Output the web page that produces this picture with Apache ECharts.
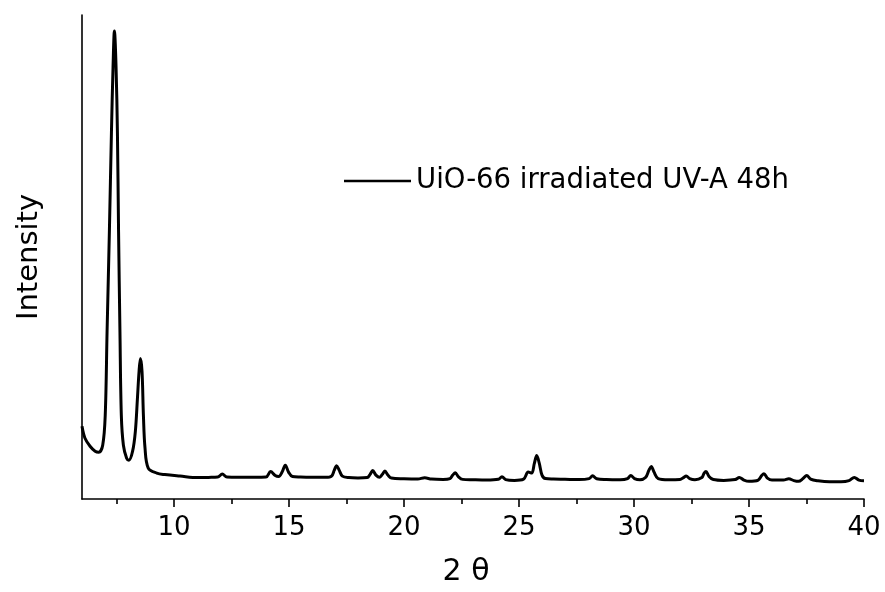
<!DOCTYPE html>
<html>
<head>
<meta charset="utf-8">
<script src="https://cdn.jsdelivr.net/npm/echarts@6/dist/echarts.min.js"></script>
<style>
html,body{margin:0;padding:0;background:#fff;}
#chart{width:885px;height:592px;}
</style>
</head>
<body>
<div id="chart"></div>
<script>
const seriesName = 'UiO-66 irradiated UV-A 48h';
const twoTheta = [6.0,6.13,6.35,6.57,6.73,6.90,7.01,7.09,7.19,7.28,7.35,7.41,7.48,7.54,7.59,7.65,7.71,7.80,7.94,8.04,8.20,8.32,8.41,8.48,8.54,8.61,8.67,8.74,8.88,9.25,9.6,10.26,11.05,11.5,11.9,12.1,12.3,12.8,13.5,14.0,14.2,14.4,14.55,14.7,14.84,14.98,15.15,15.5,16.0,16.6,16.85,16.97,17.07,17.18,17.32,17.6,18.0,18.4,18.52,18.64,18.78,18.93,19.05,19.17,19.3,19.45,20.0,20.6,20.9,21.2,21.7,22.0,22.12,22.23,22.36,22.55,23.0,23.6,24.1,24.26,24.42,24.8,25.2,25.4,25.55,25.67,25.77,25.88,26.0,26.15,26.5,27.0,27.6,28.05,28.2,28.38,28.8,29.4,29.72,29.86,30.02,30.26,30.5,30.65,30.75,30.87,31.05,31.5,32.0,32.15,32.27,32.42,32.65,32.95,33.05,33.13,33.25,33.45,33.9,34.4,34.58,34.78,35.0,35.4,35.55,35.65,35.8,36.0,36.5,36.73,36.95,37.15,37.35,37.51,37.68,38.0,38.5,39.0,39.35,39.58,39.78,40.0];
const intensity = [73,61,53,48,47,54,84,168,268,368,434,470,434,368,268,168,84,54,41,39,48,68,101,128,141,128,84,51,31,26,24.5,23,21.5,21.7,22,25,22,21.8,21.8,22,27.5,23.5,22.5,27,34,27,22.5,22,21.8,21.8,23,29,33.5,29,23,21.5,21.2,21.5,24.5,28.5,24,21.8,24.5,28,24,21,20.3,20,21.3,20,19.7,20.5,24,26.3,22.5,19.7,19.3,19,19.8,22.3,19.5,18.7,20,27,26,36,43.7,36,24,20.5,20,19.8,19.5,20.5,23.3,20.3,19.5,19.3,20.5,23.7,20.5,19.3,21.5,29,32.7,27,20.5,19.3,19.5,21.5,23,20.5,19.3,21.5,26,27.7,23,19.5,18.7,19.5,21.7,19,17.7,19,23.5,25.3,21,19,19,20.3,18.5,17.7,20.5,23.7,20,18.3,17.3,17.3,18.5,21.7,19,18.3];
const majorTicks = [10,15,20,25,30,35,40];
const minorTicks = [7.5,12.5,17.5,22.5,27.5,32.5,37.5];
const xRange = [6, 40];
const yRange = [0, 486];

const data = twoTheta.map((x, i) => [x, intensity[i]]);
const FONT = 'DejaVu Sans';

const chart = echarts.init(document.getElementById('chart'), null, {renderer: 'canvas'});
chart.setOption({
  animation: false,
  backgroundColor: '#fff',
  grid: {left: 82, right: 21, top: 15, bottom: 91, containLabel: false},
  legend: {
    show: true,
    left: 339, top: 162,
    itemWidth: 67, itemHeight: 14,
    icon: 'path://M0,0 L100,0 L100,4 L0,4 Z',
    itemStyle: {color: '#000'},
    textStyle: {fontFamily: FONT, fontSize: 27.5, color: '#000'},
    data: [seriesName]
  },
  xAxis: [{
    type: 'value', min: xRange[0], max: xRange[1],
    name: '2 θ', nameLocation: 'middle', nameGap: 58,
    nameTextStyle: {fontFamily: FONT, fontSize: 30, color: '#000', padding: [0, 14, 0, 0]},
    axisLine: {show: true, lineStyle: {color: '#000', width: 1.6}},
    axisTick: {show: true, inside: false, length: 8, customValues: majorTicks, lineStyle: {color: '#000', width: 1.6}},
    axisLabel: {show: true, customValues: majorTicks, margin: 16, fontFamily: FONT, fontSize: 26, color: '#000'},
    splitLine: {show: false}
  }, {
    type: 'value', min: xRange[0], max: xRange[1], position: 'bottom',
    axisLine: {show: false},
    axisTick: {show: true, inside: false, length: 5, customValues: minorTicks, lineStyle: {color: '#000', width: 1.6}},
    axisLabel: {show: false},
    splitLine: {show: false}
  }],
  yAxis: {
    type: 'value', min: yRange[0], max: yRange[1],
    name: 'Intensity', nameLocation: 'middle', nameGap: 38, nameRotate: 90,
    nameTextStyle: {fontFamily: FONT, fontSize: 29, color: '#000'},
    axisLine: {show: true, lineStyle: {color: '#000', width: 1.6}},
    axisTick: {show: false},
    axisLabel: {show: false},
    splitLine: {show: false}
  },
  series: [{
    name: seriesName,
    type: 'line',
    xAxisIndex: 0,
    data: data,
    showSymbol: false,
    symbol: 'none',
    smooth: 0.35,
    lineStyle: {color: '#000', width: 3, join: 'round'},
    itemStyle: {color: '#000'}
  }]
});
</script>
</body>
</html>
